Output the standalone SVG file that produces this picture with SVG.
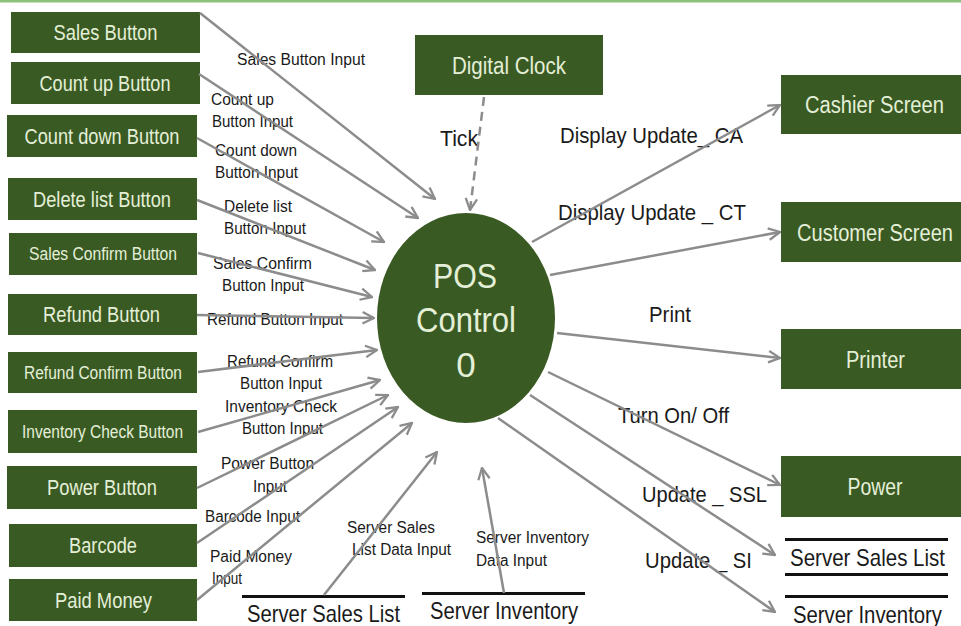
<svg xmlns="http://www.w3.org/2000/svg" width="961" height="626" viewBox="0 0 961 626">
<style>
.box{fill:#3a5a23;}
.bt{font-family:"Liberation Sans",Arial,sans-serif;fill:#e4efd8;text-anchor:middle;}
.lb{font-family:"Liberation Sans",Arial,sans-serif;fill:#1a1a1a;font-size:16px;}
.lr{font-family:"Liberation Sans",Arial,sans-serif;fill:#1a1a1a;font-size:22px;}
.ls{font-family:"Liberation Sans",Arial,sans-serif;fill:#1a1a1a;font-size:24px;}
.c{stroke:#8c8c8c;stroke-width:2.5;fill:none;marker-end:url(#ah);}
.st{stroke:#111;stroke-width:3;}
</style>
<defs>
<marker id="ah" viewBox="0 0 12 12" refX="11" refY="6" markerWidth="5.5" markerHeight="5.5" markerUnits="strokeWidth" orient="auto">
<path d="M1,1 L11,6 L1,11" fill="none" stroke="#8c8c8c" stroke-width="2"/>
</marker>
</defs>
<rect x="0" y="0" width="961" height="626" fill="#ffffff"/>
<rect x="0" y="0" width="961" height="2.5" fill="#8dc07a"/>

<g id="sales-button"><rect class="box" x="11" y="12" width="189" height="41"/><text class="bt" x="105.5" y="40" font-size="21.5" textLength="104" lengthAdjust="spacingAndGlyphs">Sales Button</text></g>
<g id="count-up-button"><rect class="box" x="11" y="62" width="189" height="42"/><text class="bt" x="105" y="90.5" font-size="21.5" textLength="131" lengthAdjust="spacingAndGlyphs">Count up Button</text></g>
<g id="count-down-button"><rect class="box" x="7" y="115" width="190" height="42"/><text class="bt" x="102" y="143.5" font-size="21.5" textLength="155" lengthAdjust="spacingAndGlyphs">Count down Button</text></g>
<g id="delete-list-button"><rect class="box" x="8" y="178" width="189" height="42"/><text class="bt" x="102" y="206.5" font-size="21.5" textLength="138" lengthAdjust="spacingAndGlyphs">Delete list Button</text></g>
<g id="sales-confirm-button"><rect class="box" x="9" y="233" width="188" height="42"/><text class="bt" x="103" y="260" font-size="17.5" textLength="148" lengthAdjust="spacingAndGlyphs">Sales Confirm Button</text></g>
<g id="refund-button"><rect class="box" x="8" y="294" width="189" height="41"/><text class="bt" x="101.5" y="322" font-size="21.5" textLength="117" lengthAdjust="spacingAndGlyphs">Refund Button</text></g>
<g id="refund-confirm-button"><rect class="box" x="8" y="352" width="189" height="41"/><text class="bt" x="103" y="379" font-size="17.5" textLength="158" lengthAdjust="spacingAndGlyphs">Refund Confirm Button</text></g>
<g id="inventory-check-button"><rect class="box" x="8" y="410" width="189" height="43"/><text class="bt" x="102.5" y="438" font-size="17.5" textLength="161" lengthAdjust="spacingAndGlyphs">Inventory Check Button</text></g>
<g id="power-button"><rect class="box" x="7" y="466" width="190" height="43"/><text class="bt" x="102" y="495" font-size="21.5" textLength="110" lengthAdjust="spacingAndGlyphs">Power Button</text></g>
<g id="barcode"><rect class="box" x="9" y="524" width="188" height="43"/><text class="bt" x="103" y="553" font-size="21.5" textLength="68" lengthAdjust="spacingAndGlyphs">Barcode</text></g>
<g id="paid-money"><rect class="box" x="9" y="579" width="188" height="42"/><text class="bt" x="103.5" y="607.5" font-size="21.5" textLength="97" lengthAdjust="spacingAndGlyphs">Paid Money</text></g>

<g id="digital-clock"><rect class="box" x="415" y="35" width="188" height="60"/><text class="bt" x="509" y="73.5" font-size="23.5" textLength="114" lengthAdjust="spacingAndGlyphs">Digital Clock</text></g>
<g id="cashier-screen"><rect class="box" x="781" y="75" width="180" height="59"/><text class="bt" x="874.5" y="113" font-size="23" textLength="139" lengthAdjust="spacingAndGlyphs">Cashier Screen</text></g>
<g id="customer-screen"><rect class="box" x="781" y="202" width="180" height="60"/><text class="bt" x="875" y="240.5" font-size="23" textLength="156" lengthAdjust="spacingAndGlyphs">Customer Screen</text></g>
<g id="printer"><rect class="box" x="781" y="329" width="180" height="60"/><text class="bt" x="875.5" y="367.5" font-size="23" textLength="59" lengthAdjust="spacingAndGlyphs">Printer</text></g>
<g id="power"><rect class="box" x="781" y="456" width="180" height="61"/><text class="bt" x="875" y="495" font-size="23" textLength="55" lengthAdjust="spacingAndGlyphs">Power</text></g>

<g id="pos-control">
<ellipse cx="466" cy="318" rx="89" ry="105" fill="#3a5a23"/>
<text class="bt" x="465" y="288" font-size="35" textLength="64" lengthAdjust="spacingAndGlyphs">POS</text>
<text class="bt" x="466" y="332" font-size="35" textLength="100" lengthAdjust="spacingAndGlyphs">Control</text>
<text class="bt" x="466" y="377" font-size="35">0</text>
</g>

<g id="store-server-sales-list-bottom">
<line class="st" x1="242" y1="596.5" x2="405" y2="596.5"/>
<text class="ls" x="247" y="622" textLength="153" lengthAdjust="spacingAndGlyphs">Server Sales List</text>
</g>
<g id="store-server-inventory-bottom">
<line class="st" x1="422" y1="593.5" x2="585" y2="593.5"/>
<text class="ls" x="430" y="619" textLength="148" lengthAdjust="spacingAndGlyphs">Server Inventory</text>
</g>
<g id="store-server-sales-list-right">
<line class="st" x1="785" y1="539.5" x2="948" y2="539.5"/>
<line class="st" x1="785" y1="574.5" x2="948" y2="574.5"/>
<text class="ls" x="790" y="566" textLength="155" lengthAdjust="spacingAndGlyphs">Server Sales List</text>
</g>
<g id="store-server-inventory-right">
<line class="st" x1="785" y1="596.5" x2="948" y2="596.5"/>
<text class="ls" x="793" y="623" textLength="149" lengthAdjust="spacingAndGlyphs">Server Inventory</text>
</g>

<g id="connector-labels">
<text class="lb" x="237" y="65" textLength="128" lengthAdjust="spacingAndGlyphs">Sales Button Input</text>
<text class="lb" x="211" y="105" textLength="63" lengthAdjust="spacingAndGlyphs">Count up</text>
<text class="lb" x="212" y="127" textLength="81" lengthAdjust="spacingAndGlyphs">Button Input</text>
<text class="lb" x="215" y="156" textLength="82" lengthAdjust="spacingAndGlyphs">Count down</text>
<text class="lb" x="215" y="178" textLength="83" lengthAdjust="spacingAndGlyphs">Button Input</text>
<text class="lb" x="224" y="212" textLength="68" lengthAdjust="spacingAndGlyphs">Delete list</text>
<text class="lb" x="224" y="234" textLength="82" lengthAdjust="spacingAndGlyphs">Button Input</text>
<text class="lb" x="213" y="269" textLength="99" lengthAdjust="spacingAndGlyphs">Sales Confirm</text>
<text class="lb" x="222" y="291" textLength="82" lengthAdjust="spacingAndGlyphs">Button Input</text>
<text class="lb" x="207" y="325" textLength="136" lengthAdjust="spacingAndGlyphs">Refund Button Input</text>
<text class="lb" x="227" y="367" textLength="106" lengthAdjust="spacingAndGlyphs">Refund Confirm</text>
<text class="lb" x="240" y="389" textLength="82" lengthAdjust="spacingAndGlyphs">Button Input</text>
<text class="lb" x="225" y="412" textLength="112" lengthAdjust="spacingAndGlyphs">Inventory Check</text>
<text class="lb" x="242" y="434" textLength="81" lengthAdjust="spacingAndGlyphs">Button Input</text>
<text class="lb" x="221" y="469" textLength="93" lengthAdjust="spacingAndGlyphs">Power Button</text>
<text class="lb" x="253" y="492" textLength="34" lengthAdjust="spacingAndGlyphs">Input</text>
<text class="lb" x="205" y="522" textLength="95" lengthAdjust="spacingAndGlyphs">Barcode Input</text>
<text class="lb" x="210" y="562" textLength="82" lengthAdjust="spacingAndGlyphs">Paid Money</text>
<text class="lb" x="212" y="584" textLength="30" lengthAdjust="spacingAndGlyphs">Input</text>
<text class="lb" x="347" y="533" textLength="88" lengthAdjust="spacingAndGlyphs">Server Sales</text>
<text class="lb" x="352" y="555" textLength="99" lengthAdjust="spacingAndGlyphs">List Data Input</text>
<text class="lb" x="476" y="543" textLength="113" lengthAdjust="spacingAndGlyphs">Server Inventory</text>
<text class="lb" x="476" y="566" textLength="71" lengthAdjust="spacingAndGlyphs">Data Input</text>
<text class="lr" x="440" y="146" textLength="38" lengthAdjust="spacingAndGlyphs">Tick</text>
<text class="lr" x="560" y="143" textLength="183" lengthAdjust="spacingAndGlyphs">Display Update_ CA</text>
<text class="lr" x="558" y="220" textLength="188" lengthAdjust="spacingAndGlyphs">Display Update _ CT</text>
<text class="lr" x="649" y="322" textLength="42" lengthAdjust="spacingAndGlyphs">Print</text>
<text class="lr" x="618" y="423" textLength="111" lengthAdjust="spacingAndGlyphs">Turn On/ Off</text>
<text class="lr" x="642" y="502" textLength="125" lengthAdjust="spacingAndGlyphs">Update _ SSL</text>
<text class="lr" x="645" y="568" textLength="107" lengthAdjust="spacingAndGlyphs">Update _ SI</text>
</g>

<g id="connectors">
<line class="c" x1="200" y1="13" x2="435" y2="199"/>
<line class="c" x1="199" y1="74" x2="418" y2="218"/>
<line class="c" x1="197" y1="138" x2="384" y2="242"/>
<line class="c" x1="197" y1="200" x2="375" y2="270"/>
<line class="c" x1="198" y1="253" x2="372" y2="297"/>
<line class="c" x1="197" y1="315" x2="374" y2="318"/>
<line class="c" x1="198" y1="372" x2="377" y2="350"/>
<line class="c" x1="198" y1="432" x2="380" y2="380"/>
<line class="c" x1="197" y1="488" x2="388" y2="395"/>
<line class="c" x1="197" y1="543" x2="398" y2="407"/>
<line class="c" x1="197" y1="600" x2="412" y2="423"/>
<line class="c" x1="324" y1="595" x2="437" y2="452"/>
<line class="c" x1="504" y1="593" x2="482" y2="468"/>
<line class="c" x1="484" y1="97" x2="470" y2="210" stroke-dasharray="9,6"/>
<line class="c" x1="532" y1="242" x2="780" y2="105"/>
<line class="c" x1="550" y1="275" x2="780" y2="232"/>
<line class="c" x1="557" y1="333" x2="780" y2="358"/>
<line class="c" x1="548" y1="372" x2="780" y2="485"/>
<line class="c" x1="530" y1="395" x2="775" y2="555"/>
<line class="c" x1="498" y1="418" x2="775" y2="612"/>
</g>
</svg>
